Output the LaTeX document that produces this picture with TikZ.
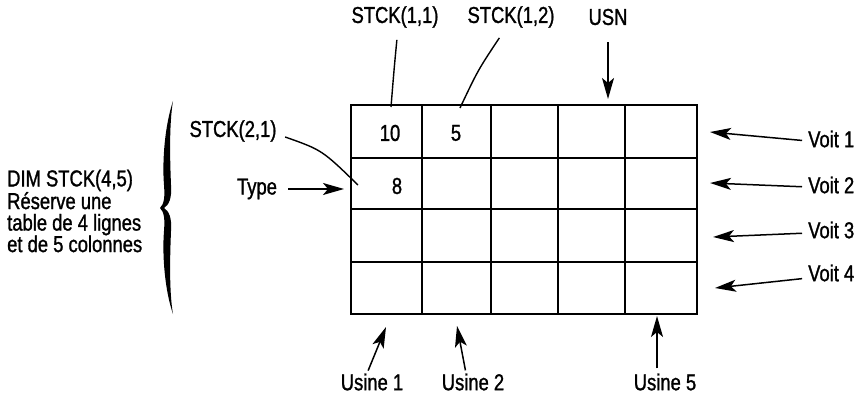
\documentclass[tikz,border=0pt]{standalone}
\usepackage{fontspec}
\setmainfont{Liberation Sans}[FakeStretch=0.8,FakeBold=1.2]
\usetikzlibrary{arrows.meta}
\begin{document}
\begin{tikzpicture}[x=1pt,y=-1pt,
  lbl/.style={font=\fontsize{23}{21}\selectfont, inner sep=0pt},
  blk/.style={font=\fontsize{23}{21.5}\selectfont, inner sep=0pt, align=left},
  arr/.style={line width=1.5pt, -{Stealth[length=21pt,width=12pt,inset=5pt]}},
  ln/.style={line width=1.4pt},
  gridln/.style={line width=1.8pt}]
\useasboundingbox (0,0) rectangle (861,395);

% grid
\draw[gridln] (351,105) rectangle (697,314);
\foreach \x in {422,491,558,625} \draw[gridln] (\x,105) -- (\x,314);
\foreach \y in {158,209,262} \draw[gridln] (351,\y) -- (697,\y);

% cell values
\node[lbl] (v10) at (390,133) {10};
\node[lbl] (v5) at (456,133) {5};
\node[lbl] (v8) at (397,186) {8};

% top labels
\node[lbl] (s11) at (395,17) {STCK(1,1)};
\node[lbl] (s12) at (511,17) {STCK(1,2)};
\node[lbl] (usn) at (608,17) {USN};
\coordinate (s11e) at (391,107);
\coordinate (s12e) at (460,108);
\coordinate (usne) at (608,99);
\draw[ln, shorten <=12pt] ([xshift=3pt]s11.south) .. controls (394,70) .. (s11e);
\draw[ln, shorten <=12pt] ([xshift=-5pt]s12.south) .. controls (478,70) .. (s12e);
\draw[arr, shorten <=17pt] (usn.south) -- (usne);

% left labels
\node[lbl] (s21) at (233,131) {STCK(2,1)};
\coordinate (s21e) at (358,185);
\draw[ln, shorten <=9pt] ([yshift=-3pt]s21.east) .. controls (322,150) .. (s21e);
\node[lbl] (type) at (257,189) {Type};
\coordinate (typee) at (344,189);
\draw[arr, shorten <=11pt] (type.east) -- (typee);

% DIM block
\node[blk, anchor=west] (dim) at (7,211) {DIM STCK(4,5)\\R\'eserve une\\table de 4 lignes\\et de 5 colonnes};

% brace
\fill (173,101) .. controls (165,125) and (162,160) .. (164,185)
      .. controls (165,198) and (164,204) .. (160,208)
      .. controls (164,212) and (165,218) .. (164,231)
      .. controls (162,256) and (165,291) .. (173,314)
      .. controls (169,291) and (170,256) .. (171,231)
      .. controls (172,218) and (169,211) .. (164,208)
      .. controls (169,205) and (172,198) .. (171,185)
      .. controls (170,160) and (169,125) .. (173,101) -- cycle;

% right labels
\node[lbl, anchor=west] (w1) at (808,139) {Voit 1};
\node[lbl, anchor=west] (w2) at (808,185) {Voit 2};
\node[lbl, anchor=west] (w3) at (808,230) {Voit 3};
\node[lbl, anchor=west] (w4) at (808,273) {Voit 4};
\coordinate (w1e) at (710,132);
\coordinate (w2e) at (710,183);
\coordinate (w3e) at (713,237);
\coordinate (w4e) at (715,288);
\draw[arr, shorten <=6pt] ([yshift=-2pt]w1.west) -- (w1e);
\draw[arr, shorten <=6pt] ([yshift=-2pt]w2.west) -- (w2e);
\draw[arr, shorten <=6pt] ([yshift=-3pt]w3.west) -- (w3e);
\draw[arr, shorten <=6pt] ([yshift=-5pt]w4.west) -- (w4e);

% bottom labels
\node[lbl] (u1) at (372,382) {Usine 1};
\node[lbl] (u2) at (473,382) {Usine 2};
\node[lbl] (u5) at (665,382) {Usine 5};
\coordinate (u1e) at (386,327);
\coordinate (u2e) at (457,326);
\coordinate (u5e) at (657,316);
\draw[arr, shorten <=3pt] ([xshift=-5pt]u1.north) -- (u1e);
\draw[arr, shorten <=3pt] ([xshift=-7pt]u2.north) -- (u2e);
\draw[arr, shorten <=5pt] ([xshift=-8pt]u5.north) -- (u5e);
\end{tikzpicture}
\end{document}
